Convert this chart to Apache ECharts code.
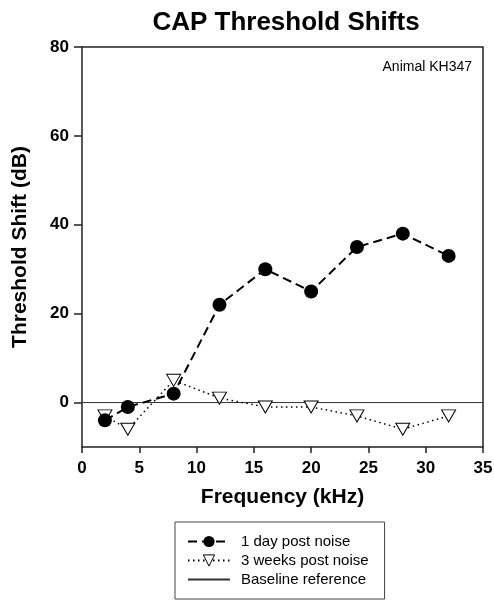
<!DOCTYPE html>
<html>
<head>
<meta charset="utf-8">
<script src="https://cdn.jsdelivr.net/npm/echarts@6/dist/echarts.min.js"></script>
<style>
html, body { margin: 0; padding: 0; background: #fff; }
#chart { width: 494px; height: 602px; }
</style>
</head>
<body>
<div id="chart"></div>
<script>
// frequencies (kHz)
var freq = [2, 4, 8, 12, 16, 20, 24, 28, 32];
// threshold shift (dB)
var day1 = [-4, -1, 2, 22, 30, 25, 35, 38, 33];
var week3 = [-3, -6, 5, 1, -1, -1, -3, -6, -3];
var baseX = [0, 35];
var yTicks = [0, 20, 40, 60, 80];

function pairs(xs, ys) {
	var out = [];
	for (var i = 0; i < xs.length; i++) {
		out.push([xs[i], ys[i]]);
	}
	return out;
}

var tri = 'path://M0,0 L10,0 L5,8.5 Z';
var font = 'Liberation Sans, Arial, sans-serif';

var myChart = echarts.init(document.getElementById('chart'));
var options = {
	animation : false,
	title : {
		text : 'CAP Threshold Shifts',
		left : 281,
		top : 5,
		textAlign : 'center',
		textStyle : { fontFamily : font, fontWeight : 'bold', fontSize : 26, color : '#000' }
	},
	grid : { left : 82, right : 11, top : 47, bottom : 155, outerBoundsMode : 'none', containLabel : false },
	legend : {
		orient : 'vertical',
		left : 175,
		top : 522,
		width : 190,
		padding : [ 12, 16, 12, 12 ],
		itemGap : 4,
		itemWidth : 42,
		itemHeight : 14,
		borderColor : '#444',
		borderWidth : 1,
		textStyle : { fontFamily : font, fontSize : 15, color : '#000', padding : [0, 0, 0, 6] },
		data : [ '1 day post noise', {
			name : '3 weeks post noise',
			itemStyle : { borderWidth : 1 }
		}, {
			name : 'Baseline reference',
			itemStyle : { color : 'rgba(0,0,0,0)', borderWidth : 0 }
		} ]
	},
	xAxis : {
		type : 'value',
		min : 0,
		max : 35,
		interval : 5,
		name : 'Frequency (kHz)',
		nameLocation : 'middle',
		nameGap : 40,
		nameTextStyle : { fontFamily : font, fontWeight : 'bold', fontSize : 21, color : '#000' },
		axisLine : { show : true, onZero : false, lineStyle : { color : '#222', width : 1.5 } },
		axisTick : { show : true, length : 6, lineStyle : { color : '#222', width : 1.5 } },
		axisLabel : { fontFamily : font, fontWeight : 'bold', fontSize : 17, color : '#000', margin : 13 },
		splitLine : { show : false }
	},
	yAxis : {
		type : 'value',
		min : -10,
		max : 80,
		interval : 10,
		name : 'Threshold Shift (dB)',
		nameLocation : 'middle',
		nameGap : 51,
		nameTextStyle : { fontFamily : font, fontWeight : 'bold', fontSize : 21, color : '#000' },
		axisLine : { show : true, onZero : false, lineStyle : { color : '#222', width : 1.5 } },
		axisTick : { show : true, length : 8, customValues : yTicks, lineStyle : { color : '#222', width : 1.5 } },
		axisLabel : { customValues : yTicks, fontFamily : font, fontWeight : 'bold', fontSize : 17, color : '#000', margin : 13 },
		splitLine : { show : false }
	},
	series : [ {
		name : '1 day post noise',
		type : 'line',
		data : pairs(freq, day1),
		symbol : 'circle',
		symbolSize : 14,
		lineStyle : { color : '#000', width : 2, type : [9, 5] },
		itemStyle : { color : '#000' },
		z : 3
	}, {
		name : '3 weeks post noise',
		type : 'line',
		data : pairs(freq, week3),
		symbol : tri,
		symbolSize : [14, 12],
		lineStyle : { color : '#000', width : 1.5, type : [1.5, 3.5] },
		itemStyle : { color : '#fff', borderColor : '#000', borderWidth : 1 },
		z : 2
	}, {
		name : 'Baseline reference',
		type : 'line',
		data : pairs(baseX, [0, 0]),
		symbol : 'none',
		lineStyle : { color : '#333', width : 1 },
		itemStyle : { color : '#333' },
		z : 1
	} ]
};
myChart.setOption(options);

// box around the plot area (top and right sides) + animal label
var g = myChart.getModel().getComponent('grid').coordinateSystem.getRect();
myChart.setOption({
	graphic : [ {
		type : 'text',
		right : 22,
		top : 60,
		style : { text : 'Animal KH347', font : '14px ' + font, fill : '#000' }
	}, {
		type : 'polyline',
		shape : { points : [ [ g.x, g.y ], [ g.x + g.width, g.y ], [ g.x + g.width, g.y + g.height ] ] },
		style : { stroke : '#222', lineWidth : 1.5, fill : null }
	} ]
});
</script>
</body>
</html>
